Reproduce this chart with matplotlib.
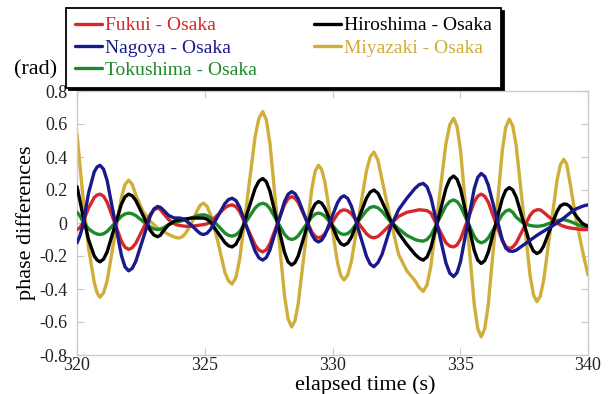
import matplotlib
matplotlib.use("Agg")
import matplotlib.pyplot as plt
from matplotlib.ticker import FixedLocator, FuncFormatter

plt.rcParams['font.family'] = ['Liberation Serif', 'DejaVu Serif']
plt.rcParams['axes.unicode_minus'] = False

# elapsed time (s)
time_s = [320.0,
          320.11, 320.225, 320.45, 320.675, 320.79, 320.9,
          321.04, 321.18, 321.46, 321.74, 321.88, 322.02,
          322.16, 322.30, 322.585, 322.87, 323.01, 323.15,
          323.26, 323.37, 323.59, 323.81, 323.92, 324.03,
          324.145, 324.26, 324.49, 324.72, 324.835, 324.95,
          325.09, 325.23, 325.51, 325.79, 325.93, 326.07,
          326.22, 326.37, 326.67, 326.97, 327.12, 327.27,
          327.41, 327.55, 327.835, 328.12, 328.26, 328.4,
          328.53, 328.66, 328.925, 329.19, 329.32, 329.45,
          329.575, 329.70, 329.95, 330.20, 330.325, 330.45,
          330.595, 330.74, 331.035, 331.33, 331.475, 331.62,
          331.78, 331.94, 332.26, 332.585, 332.91, 333.23, 333.39, 333.55,
          333.70, 333.85, 334.145, 334.44, 334.59, 334.74,
          334.875, 335.01, 335.28, 335.55, 335.685, 335.82,
          335.96, 336.095, 336.37, 336.645, 336.78, 336.92,
          337.055, 337.19, 337.46, 337.73, 337.865, 338.0,
          338.13, 338.26, 338.525, 338.79, 338.92, 339.05,
          339.17, 339.29, 339.525, 339.76, 339.88, 340.0]

fukui = [-0.04,
         -0.03, 0.0, 0.09, 0.155, 0.17, 0.175,
         0.162, 0.126, 0.0075, -0.111, -0.147, -0.16,
         -0.15, -0.123, -0.035, 0.053, 0.08, 0.09,
         0.082, 0.06, 0.02, -0.005, -0.012, -0.015,
         -0.018, -0.02, -0.02, -0.015, -0.012, -0.01,
         -0.005, 0.0075, 0.05, 0.092, 0.105, 0.11,
         0.099, 0.068, -0.0325, -0.133, -0.164, -0.175,
         -0.162, -0.126, -0.0075, 0.111, 0.147, 0.16,
         0.15, 0.124, 0.035, -0.054, -0.08, -0.09,
         -0.084, -0.065, -0.005, 0.055, 0.074, 0.08,
         0.074, 0.055, -0.005, -0.065, -0.084, -0.09,
         -0.082, -0.06, -0.01, 0.04, 0.065, 0.075, 0.08, 0.078,
         0.075, 0.06, -0.03, -0.12, -0.14, -0.145,
         -0.133, -0.098, 0.015, 0.128, 0.163, 0.175,
         0.162, 0.127, 0.01, -0.107, -0.142, -0.155,
         -0.146, -0.121, -0.0375, 0.046, 0.071, 0.08,
         0.08, 0.065, 0.03, 0.0, -0.012, -0.02,
         -0.026, -0.03, -0.035, -0.04, -0.04, -0.04]

nagoya = [-0.12,
          -0.08, -0.02, 0.18, 0.31, 0.34, 0.35,
          0.326, 0.257, 0.03, -0.197, -0.266, -0.29,
          -0.275, -0.233, -0.095, 0.043, 0.085, 0.1,
          0.095, 0.08, 0.045, 0.03, 0.03, 0.03,
          0.025, 0.015, -0.015, -0.05, -0.065, -0.07,
          -0.062, -0.038, 0.04, 0.118, 0.142, 0.15,
          0.136, 0.095, -0.0375, -0.17, -0.211, -0.225,
          -0.209, -0.164, -0.0175, 0.129, 0.174, 0.19,
          0.178, 0.145, 0.0375, -0.07, -0.103, -0.115,
          -0.104, -0.074, 0.025, 0.124, 0.154, 0.165,
          0.149, 0.102, -0.05, -0.202, -0.249, -0.265,
          -0.24, -0.19, -0.03, 0.08, 0.15, 0.21, 0.232, 0.24,
          0.219, 0.157, -0.0425, -0.242, -0.304, -0.325,
          -0.301, -0.234, -0.0125, 0.209, 0.276, 0.30,
          0.282, 0.231, 0.065, -0.101, -0.152, -0.17,
          -0.172, -0.165, -0.135, -0.105, -0.09, -0.075,
          -0.062, -0.05, -0.025, 0.0, 0.015, 0.03,
          0.045, 0.06, 0.085, 0.10, 0.106, 0.11]

tokushima = [0.065,
             0.045, 0.01, -0.035, -0.06, -0.067, -0.07,
             -0.065, -0.051, -0.005, 0.041, 0.055, 0.06,
             0.056, 0.045, 0.01, -0.025, -0.036, -0.04,
             -0.037, -0.03, -0.01, 0.005, 0.008, 0.01,
             0.015, 0.02, 0.03, 0.045, 0.048, 0.05,
             0.045, 0.031, -0.015, -0.061, -0.075, -0.08,
             -0.072, -0.051, 0.02, 0.091, 0.112, 0.12,
             0.112, 0.088, 0.01, -0.068, -0.092, -0.1,
             -0.094, -0.077, -0.02, 0.037, 0.054, 0.06,
             0.055, 0.041, -0.005, -0.051, -0.065, -0.07,
             -0.064, -0.045, 0.015, 0.075, 0.094, 0.10,
             0.092, 0.07, 0.01, -0.035, -0.075, -0.10, -0.107, -0.11,
             -0.1, -0.074, 0.015, 0.104, 0.13, 0.14,
             0.13, 0.102, 0.01, -0.082, -0.11, -0.12,
             -0.112, -0.091, -0.02, 0.051, 0.072, 0.08,
             0.065, 0.035, 0.0, -0.015, -0.018, -0.02,
             -0.018, -0.015, 0.0, 0.015, 0.018, 0.02,
             0.016, 0.01, -0.005, -0.02, -0.023, -0.025]

hiroshima = [0.22,
             0.14, 0.05, -0.1, -0.2, -0.225, -0.235,
             -0.219, -0.175, -0.03, 0.115, 0.159, 0.175,
             0.165, 0.137, 0.046, -0.045, -0.073, -0.083,
             -0.075, -0.05, -0.01, 0.01, 0.017, 0.02,
             0.023, 0.025, 0.03, 0.03, 0.03, 0.03,
             0.023, 0.004, -0.058, -0.119, -0.138, -0.145,
             -0.129, -0.084, 0.063, 0.209, 0.254, 0.27,
             0.25, 0.193, 0.0075, -0.178, -0.235, -0.255,
             -0.24, -0.199, -0.0625, 0.074, 0.115, 0.13,
             0.12, 0.091, -0.0025, -0.096, -0.125, -0.135,
             -0.122, -0.086, 0.0325, 0.151, 0.187, 0.2,
             0.18, 0.13, 0.02, -0.06, -0.13, -0.19, -0.213, -0.225,
             -0.206, -0.15, 0.03, 0.21, 0.266, 0.285,
             0.265, 0.208, 0.02, -0.168, -0.225, -0.245,
             -0.228, -0.178, -0.015, 0.148, 0.198, 0.215,
             0.2, 0.157, 0.015, -0.127, -0.17, -0.185,
             -0.174, -0.141, -0.035, 0.071, 0.104, 0.115,
             0.113, 0.1, 0.045, 0.0, -0.012, -0.02]

miyazaki = [0.54,
            0.36, 0.17, -0.15, -0.36, -0.425, -0.45,
            -0.423, -0.35, -0.095, 0.156, 0.233, 0.26,
            0.235, 0.17, 0.07, 0.01, -0.01, -0.03,
            -0.04, -0.05, -0.07, -0.085, -0.09, -0.09,
            -0.08, -0.06, 0.0, 0.08, 0.11, 0.12,
            0.101, 0.05, -0.11, -0.30, -0.351, -0.37,
            -0.33, -0.217, 0.153, 0.522, 0.635, 0.675,
            0.625, 0.485, 0.0225, -0.44, -0.58, -0.63,
            -0.593, -0.487, -0.14, 0.207, 0.313, 0.35,
            0.324, 0.249, 0.0025, -0.244, -0.319, -0.345,
            -0.316, -0.232, 0.0425, 0.317, 0.40, 0.43,
            0.38, 0.26, 0.03, -0.19, -0.29, -0.35, -0.39, -0.415,
            -0.375, -0.262, 0.11, 0.482, 0.595, 0.635,
            0.585, 0.442, -0.0275, -0.497, -0.64, -0.69,
            -0.64, -0.497, -0.03, 0.437, 0.58, 0.63,
            0.588, 0.468, 0.077, -0.315, -0.435, -0.477,
            -0.444, -0.351, -0.046, 0.26, 0.353, 0.386,
            0.355, 0.25, 0.03, -0.15, -0.235, -0.315]

series_labels = ["Fukui - Osaka", "Nagoya - Osaka", "Tokushima - Osaka",
                 "Hiroshima - Osaka", "Miyazaki - Osaka"]
series_values = [fukui, nagoya, tokushima, hiroshima, miyazaki]
series_colors = ["#d62828", "#1a1a8c", "#1e8a2a", "#000000", "#cfae3a"]
draw_order = [4, 2, 0, 3, 1]  # z-stack: Miyazaki at back

x_ticks = [320, 325, 330, 335, 340]
y_ticks = [-0.8, -0.6, -0.4, -0.2, 0, 0.2, 0.4, 0.6, 0.8]

fig = plt.figure(figsize=(6.15, 3.94), dpi=100)
ax = fig.add_axes([77 / 615, 1 - 355 / 394, (588 - 77) / 615, (355 - 91) / 394])

handles = [None] * 5
for z, i in enumerate(draw_order):
    h, = ax.plot(time_s, series_values[i], color=series_colors[i], lw=2.4,
                 solid_joinstyle='round', solid_capstyle='round', zorder=2 + z,
                 label=series_labels[i])
    handles[i] = h

ax.set_xlim(320, 340)
ax.set_ylim(-0.8, 0.8)
ax.xaxis.set_major_locator(FixedLocator(x_ticks))
ax.yaxis.set_major_locator(FixedLocator(y_ticks))
ax.yaxis.set_major_formatter(FuncFormatter(lambda v, p: "0" if abs(v) < 1e-9 else f"{v:.1f}"))
ax.tick_params(direction='in', length=5, width=0.8, color='#c8c8c8',
               top=True, right=True, labelsize=13, labelcolor='#222222')
ax.tick_params(axis='y', pad=7)
ax.tick_params(axis='x', pad=1.5)
for s in ax.spines.values():
    s.set_color('#cccccc')
    s.set_linewidth(1.0)

ax.set_xlabel("elapsed time (s)", fontsize=16)
ax.xaxis.set_label_coords((365 - 77) / 511, -0.076)
ax.set_ylabel("phase differences", fontsize=16, labelpad=2)
fig.text(36 / 615, 1 - 70 / 394, "(rad)", fontsize=16, ha='center', va='center')

leg = fig.legend(handles=handles, labels=series_labels, ncol=2,
                 loc='upper left', bbox_to_anchor=(66 / 615, 1 - 8 / 394),
                 fontsize=14, frameon=True, fancybox=False,
                 shadow={'color': 'black', 'alpha': 1.0, 'ox': 2, 'oy': -2},
                 handlelength=1.4, handletextpad=0.15, columnspacing=2.95,
                 labelspacing=0.24, borderpad=0.45, borderaxespad=0)
leg.get_frame().set_edgecolor('black')
leg.get_frame().set_linewidth(1.3)
for txt, c in zip(leg.get_texts(), series_colors):
    txt.set_color(c)

fig.savefig("out.png", dpi=100)
